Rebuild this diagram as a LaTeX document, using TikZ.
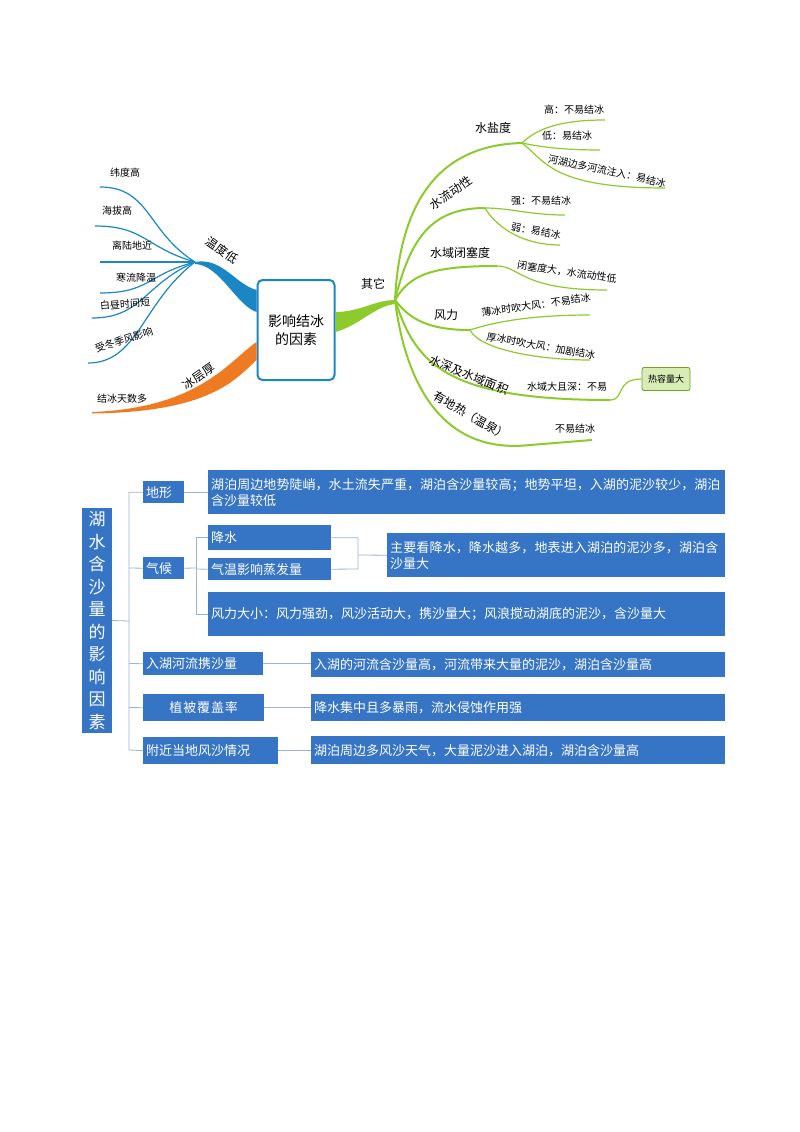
\documentclass[tikz,border=0pt]{standalone}
\usepackage{fontspec}
\setmainfont{Noto Sans CJK SC}
\XeTeXlinebreaklocale "zh"
\XeTeXlinebreakskip=0pt plus 1pt
\usetikzlibrary{calc}
\begin{document}
\begin{tikzpicture}[x=1pt,y=-1pt]
\definecolor{tb}{HTML}{1B86C4}
\definecolor{og}{HTML}{EE7A22}
\definecolor{gr}{HTML}{8DCB2C}
\definecolor{bx}{HTML}{3675C5}
\definecolor{ln}{HTML}{9DB4CF}
\tikzset{
 leaf/.style={font=\fontsize{10}{12}\selectfont, inner sep=1pt},
 br/.style={font=\fontsize{12}{14}\selectfont, inner sep=1pt},
 bl/.style={draw=tb, line width=1.2pt},
 gl/.style={draw=gr, line width=2pt},
 gs/.style={draw=gr, line width=1.2pt},
 bb/.style={fill=bx, text=white, font=\fontsize{13}{16}\selectfont, inner xsep=3pt, inner ysep=3pt, anchor=north west, align=left},
 cn/.style={draw=ln, line width=0.8pt}
}
\useasboundingbox (0,0) rectangle (800,1132);
\fill[white] (0,0) rectangle (800,1132);
% ---------- top mind map ----------
\node[draw=tb, line width=2pt, rounded corners=5pt, fill=white, minimum width=77pt, minimum height=100pt, align=center, font=\fontsize{14}{18}\selectfont] (c) at (296,330) {影响结冰\\的因素};
\coordinate (hb) at (195,262);
\fill[tb] ([yshift=40pt]c.west) .. controls (235,284) and (222,257) .. (hb) -- ++(0,2) .. controls (220,265) and (236,305) .. ([yshift=18pt]c.west) -- cycle;
\node[br, rotate=-35] (tl) at (222,250) {温度低};
\foreach \n/\y/\x/\tx/\ty/\t/\r in {a/187/100/125/173/纬度高/0, b/226/95/117/211/海拔高/0, d/262/100/132/246/离陆地近/0, e/293/100/136/278/寒流降温/0, f/318/92/125/304/白昼时间短/5, g/363/88/124/340/受冬季风影响/18}{
 \coordinate (\n) at (\x,\y);
 \draw[bl] (hb) .. controls ($(hb)!0.4!(\x,\y)+(-10,0)$) and (\x+50,\y) .. (\n);
 \node[leaf, rotate=\r] (t\n) at (\tx,\ty) {\t};
}
\coordinate (oe) at (92,412);
\fill[og] ([yshift=-12pt]c.west) .. controls (230,360) and (200,408) .. (oe) -- ++(0,1.5) .. controls (210,412) and (235,380) .. ([yshift=-30pt]c.west) -- cycle;
\node[br, rotate=35] (ol) at (199,376) {冰层厚};
\node[leaf] (ot) at (122,399) {结冰天数多};
% green
\coordinate (gh) at (395,300);
\fill[gr] ([yshift=18pt]c.east) .. controls (360,312) and (375,300) .. (gh) -- ++(0,4) .. controls (375,306) and (360,325) .. ([yshift=-2pt]c.east) -- cycle;
\node[br] (ql) at (373,284) {其它};
% 水盐度
\coordinate (s1) at (522,143);
\draw[gl] (gh) .. controls (400,200) and (440,145) .. (s1);
\node[br] (s1t) at (493,128) {水盐度};
\coordinate (s1a) at (605,120); \coordinate (s1b) at (600,150); \coordinate (s1c) at (665,188);
\draw[gs] (s1) .. controls (540,125) and (570,120) .. (s1a);
\draw[gs] (s1) .. controls (545,148) and (570,150) .. (s1b);
\draw[gs] (s1) .. controls (545,160) and (550,188) .. (s1c);
\node[leaf] at (574,110) {高：不易结冰};
\node[leaf] at (567,136) {低：易结冰};
\node[leaf, rotate=-12] at (607,171) {河湖边多河流注入：易结冰};
% 水流动性
\coordinate (s2) at (485,208);
\draw[gl] (gh) .. controls (410,240) and (430,208) .. (s2);
\node[br, rotate=35] (s2t) at (451,193) {水流动性};
\coordinate (s2a) at (565,215); \coordinate (s2b) at (560,245);
\draw[gs] (s2) .. controls (510,208) and (530,215) .. (s2a);
\draw[gs] (s2) .. controls (495,225) and (520,245) .. (s2b);
\node[leaf] at (541,201) {强：不易结冰};
\node[leaf, rotate=-10] at (536,231) {弱：易结冰};
% 水域闭塞度
\coordinate (s3) at (497,266);
\draw[gl] (gh) .. controls (410,275) and (430,266) .. (s3);
\node[br] (s3t) at (460,253) {水域闭塞度};
\coordinate (s3a) at (607,290);
\draw[gs] (s3) .. controls (520,266) and (520,290) .. (s3a);
\node[leaf, rotate=-8] at (567,272) {闭塞度大，水流动性低};
% 风力
\coordinate (s4) at (470,330);
\draw[gl] (gh) .. controls (410,320) and (430,330) .. (s4);
\node[br] (s4t) at (446,315) {风力};
\coordinate (s4a) at (590,315); \coordinate (s4b) at (590,360);
\draw[gs] (s4) .. controls (500,320) and (540,315) .. (s4a);
\draw[gs] (s4) .. controls (480,350) and (540,360) .. (s4b);
\node[leaf, rotate=8] at (536,305) {薄冰时吹大风：不易结冰};
\node[leaf, rotate=-10] at (541,346) {厚冰时吹大风：加剧结冰};
% 水深
\coordinate (s5) at (610,400);
\draw[gl] (gh) .. controls (415,360) and (440,400) .. (s5);
\node[br, rotate=-22] (s5t) at (469,375) {水深及水域面积};
\node[leaf] at (567,387) {水域大且深：不易};
\node[draw=gr!80!black, fill=gr!35, rounded corners=2pt, line width=0.8pt, minimum width=48pt, minimum height=23pt, font=\fontsize{9}{11}\selectfont] (hr) at (666,379) {热容量大};
\draw[gs] (s5) .. controls (625,400) and (615,379) .. (hr.west);
% 地热
\coordinate (s6) at (592,440);
\draw[gl] (gh) .. controls (405,380) and (440,455) .. (530,445) -- (s6);
\node[br, rotate=-30] (s6t) at (471,416) {有地热（温泉）};
\node[leaf] at (575,429) {不易结冰};
% ---------- bottom ----------
\node[fill=bx, text=white, minimum width=30pt, minimum height=225pt, align=center, font=\fontsize{17}{22.5}\selectfont] (r) at (97,620.5) {湖\\水\\含\\沙\\量\\的\\影\\响\\因\\素};
\node[bb, text width=35pt, minimum height=22pt] (k1) at (143,481) {地形};
\node[bb, text width=511pt, minimum height=44pt] (d1) at (208,470) {湖泊周边地势陡峭，水土流失严重，湖泊含沙量较高；地势平坦，入湖的泥沙较少，湖泊含沙量较低};
\node[bb, text width=35pt, minimum height=22pt] (k2) at (143,557) {气候};
\node[bb, text width=117pt, minimum height=25pt] (k2a) at (208,525) {降水};
\node[bb, text width=117pt, minimum height=22pt] (k2b) at (208,558) {气温影响蒸发量};
\node[bb, text width=332pt, minimum height=44pt] (d2) at (387,533) {主要看降水，降水越多，地表进入湖泊的泥沙多，湖泊含沙量大};
\node[bb, text width=511pt, minimum height=44pt] (k2c) at (208,592) {风力大小：风力强劲，风沙活动大，携沙量大；风浪搅动湖底的泥沙，含沙量大};
\node[bb, text width=114pt, minimum height=23pt] (k3) at (143,652) {入湖河流携沙量};
\node[bb, text width=408pt, minimum height=25pt] (d3) at (311,652) {入湖的河流含沙量高，河流带来大量的泥沙，湖泊含沙量高};
\node[bb, minimum height=27pt, align=center, text width=115pt] (k4) at (143,694) {植被覆盖率};
\node[bb, text width=408pt, minimum height=27pt] (d4) at (311,694) {降水集中且多暴雨，流水侵蚀作用强};
\node[bb, text width=129pt, minimum height=27pt] (k5) at (143,737) {附近当地风沙情况};
\node[bb, text width=408pt, minimum height=28pt] (d5) at (311,736) {湖泊周边多风沙天气，大量泥沙进入湖泊，湖泊含沙量高};
\coordinate (tr) at (129,621);
\draw[cn] (r.east) -- (tr);
\draw[cn] (k1.west) -| (129,750) -- (k5.west);
\draw[cn] (129,568) -- (k2.west);
\draw[cn] (129,663.5) -- (k3.west);
\draw[cn] (129,707.5) -- (k4.west);
\draw[cn] (k1.east) -- (d1.west |- k1.east);
\draw[cn] (k2.east) -- (196,568);
\draw[cn] (k2a.west) -| (196,614) -- (k2c.west |- 0,614);
\draw[cn] (196,569) -- (k2b.west);
\draw[cn] (k2a.east) -| (358,569) -- (k2b.east);
\draw[cn] (358,555) -- (d2.west);
\draw[cn] (k3.east) -- (d3.west |- k3.east);
\draw[cn] (k4.east) -- (d4.west);
\draw[cn] (k5.east) -- (d5.west |- k5.east);
\end{tikzpicture}
\end{document}
